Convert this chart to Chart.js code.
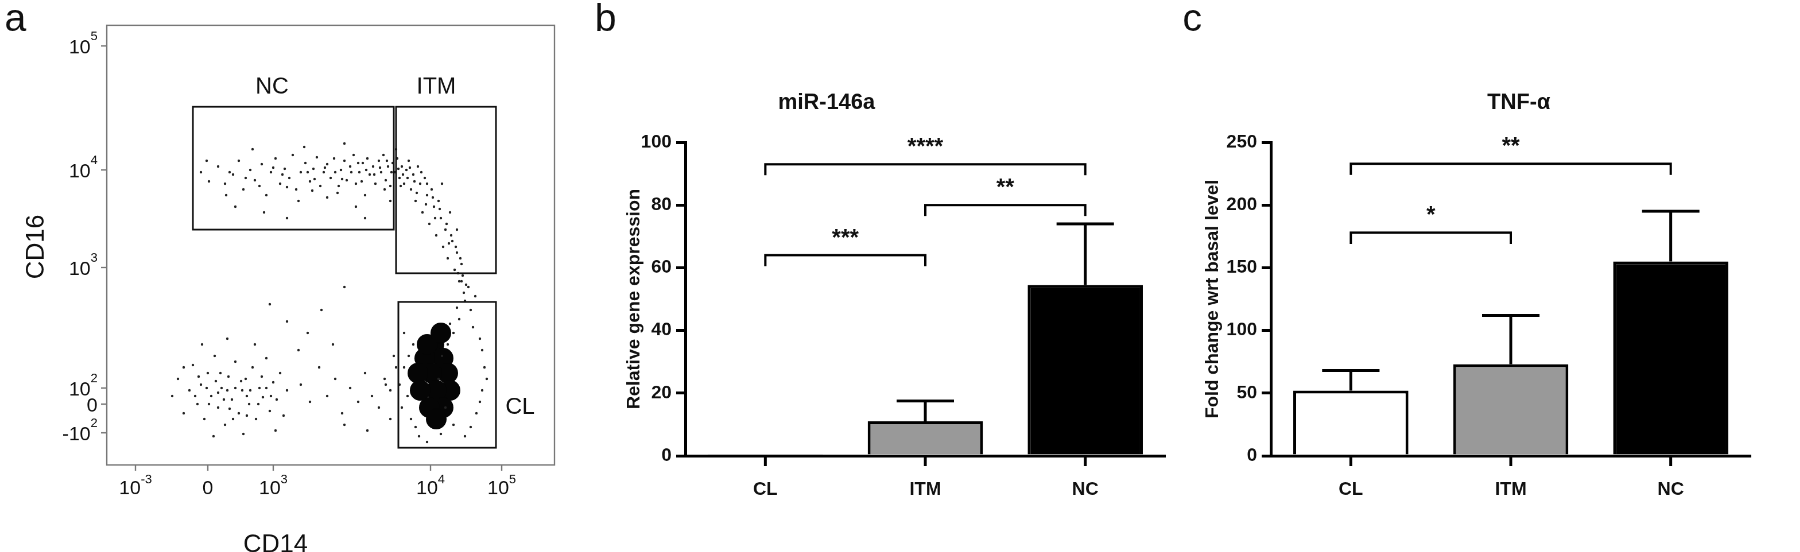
<!DOCTYPE html>
<html><head><meta charset="utf-8">
<script src="https://cdn.jsdelivr.net/npm/chart.js@4/dist/chart.umd.min.js"></script>
<style>
body{margin:0;background:#fff;width:1800px;height:552px;overflow:hidden;font-family:Arial,"Liberation Sans",sans-serif}
#root{position:absolute;left:0;top:0;width:1568px;height:481px;transform:scale(1.148);transform-origin:0 0}
.p{position:absolute;top:0;height:481px}
.lt{position:absolute;font-size:34px;top:-4px;color:#111}
</style></head><body><div id="root">
<div class="lt" style="left:4px">a</div>
<div class="lt" style="left:518px">b</div>
<div class="lt" style="left:1030px">c</div>
<div class="p" style="left:0;width:500px"><canvas id="ca"></canvas></div>
<div class="p" style="left:500px;width:530px"><canvas id="cb"></canvas></div>
<div class="p" style="left:1010px;width:530px"><canvas id="cc"></canvas></div>
</div>
<script>
// ---- Panel a: flow cytometry (display units) ----
const xTickPos=[118,181,238,375,437];
const xTickBase=['10','0','10','10','10'];
const xTickExp=['-3','','3','4','5'];
const yTickPos=[40,148,233,338,352,377];
const yTickBase=['10','10','10','10','0','-10'];
const yTickExp=['5','4','3','2','','2'];
const gates=[{l:'NC',x0:168,x1:343,y0:93,y1:200,lx:237,ly:76},{l:'ITM',x0:345,x1:432,y0:93,y1:238,lx:380,ly:76},{l:'CL',x0:347,x1:432,y0:263,y1:390,lx:453,ly:355}];
const bandPts=[[175,150],[182,158],[190,145],[196,160],[203,152],[208,140],[212,165],[218,148],[222,157],[228,143],[232,170],[236,150],[240,138],[244,160],[248,147],[252,155],[255,135],[258,165],[262,150],[266,142],[270,158],[273,147],[276,137],[279,162],[282,150],[285,143],[288,155],[291,138],[294,168],[297,148],[300,140],[302,157],[305,145],[308,135],[310,160],[313,150],[316,142],[318,170],[320,138],[322,152],[325,145],[327,160],[330,140],[332,150],[334,135],[336,157],[338,145],[340,162],[342,142],[344,150],[346,138],[348,155],[350,145],[352,160],[354,148],[356,140],[358,165],[360,152],[362,175],[364,145],[366,160],[368,185],[370,155],[372,170],[374,195],[376,165],[378,180],[380,205],[382,175],[384,190],[386,215],[388,200],[390,225],[392,185],[394,210],[396,235],[398,220],[400,245],[402,230],[404,255],[403,240],[398,200],[385,160],[260,175],[230,185],[205,180],[285,172],[310,180],[340,175],[220,130],[265,128],[300,125],[345,130],[197,170],[250,190],[318,190],[180,140],[238,146],[246,152],[268,150],[274,156],[283,146],[292,150],[298,156],[306,150],[312,142],[319,148],[326,152],[331,146],[337,140],[341,150],[347,147],[351,152],[357,146],[361,158],[367,150],[372,160],[377,172],[383,182],[389,195],[393,205],[397,215],[401,225],[406,248],[399,238],[391,212],[379,190],[371,178],[363,168],[355,155],[349,162],[335,165],[315,158],[295,162],[272,166],[250,163],[226,162],[214,155],[200,150]];
const leftPts=[[150,345],[155,330],[160,360],[165,340],[168,318],[172,352],[175,335],[178,365],[181,325],[184,345],[187,310],[190,355],[193,338],[196,370],[199,328],[202,348],[205,315],[208,360],[211,340],[214,330],[217,352],[220,320],[223,365],[226,338],[229,346],[232,312],[235,358],[238,333],[241,348],[244,325],[247,362],[250,340],[176,300],[198,295],[222,300],[186,380],[212,378],[240,375],[160,320],[205,338],[190,342],[215,345],[228,328],[170,345],[180,338],[188,332],[195,348],[200,356],[210,332],[218,340],[225,352],[232,338],[182,352],[192,325],[203,365],[215,362],[173,328],[236,345],[198,340]];
const midPts=[[262,335],[270,350],[278,320],[285,345],[292,330],[298,360],[305,338],[312,350],[318,325],[324,345],[330,355],[336,335],[340,365],[268,290],[290,300],[300,370],[320,375],[250,280],[280,270],[235,265],[300,250],[260,305]];
const clPts=[[405,262],[410,270],[400,278],[412,285],[395,290],[418,295],[390,300],[420,305],[385,310],[422,320],[382,330],[420,340],[388,355],[415,360],[395,370],[405,380],[360,300],[352,320],[355,345],[358,365],[365,380],[348,335],[408,250],[414,258],[402,245],[398,268],[392,282],[352,290],[356,310],[350,355],[362,372],[372,385],[384,378],[410,372],[418,350],[424,330],[345,320],[340,340],[335,330],[343,310]];
const clBlob=[[378,300],[386,312],[370,312],[390,325],[376,325],[364,325],[392,340],[380,340],[366,340],[386,355],[374,355],[380,365],[372,300],[384,290]];

const frame={id:'frame',afterDraw(c){
  const g=c.ctx,xs=c.scales.x,ys=c.scales.y,a=c.chartArea;
  g.save();g.strokeStyle='#777';g.lineWidth=1.2;g.strokeRect(a.left,a.top,a.right-a.left,a.bottom-a.top);
  g.fillStyle='#111';
  xTickPos.forEach((p,i)=>{const X=xs.getPixelForValue(p);g.beginPath();g.moveTo(X,a.bottom);g.lineTo(X,a.bottom+5);g.stroke();
    g.font='17px Arial';const w=g.measureText(xTickBase[i]).width;g.font='11px Arial';const w2=g.measureText(xTickExp[i]).width;
    const x0=X-(w+w2)/2;g.font='17px Arial';g.textBaseline='middle';g.textAlign='left';g.fillText(xTickBase[i],x0,a.bottom+21);
    g.font='11px Arial';g.fillText(xTickExp[i],x0+w,a.bottom+13);});
  yTickPos.forEach((p,i)=>{const Y=ys.getPixelForValue(p);g.beginPath();g.moveTo(a.left,Y);g.lineTo(a.left-5,Y);g.stroke();
    g.font='11px Arial';const w2=g.measureText(yTickExp[i]).width;g.textAlign='right';g.textBaseline='middle';
    g.fillText(yTickExp[i],a.left-8,Y-8);g.font='17px Arial';g.fillText(yTickBase[i],a.left-8-w2,Y+2);});
  g.strokeStyle='#111';g.lineWidth=1.5;g.font='20px Arial';g.textAlign='center';
  gates.forEach(q=>{const x0=xs.getPixelForValue(q.x0),x1=xs.getPixelForValue(q.x1),y0=ys.getPixelForValue(q.y0),y1=ys.getPixelForValue(q.y1);
    g.strokeRect(x0,y0,x1-x0,y1-y0);g.fillText(q.l,xs.getPixelForValue(q.lx),ys.getPixelForValue(q.ly));});
  g.font='22px Arial';g.fillText('CD14',240,475);
  g.translate(32,215);g.rotate(-Math.PI/2);g.fillText('CD16',0,0);g.restore();}};
const pt=a=>a.map(p=>({x:p[0],y:p[1]}));
new Chart(document.getElementById('ca'),{type:'scatter',
 data:{datasets:[
  {data:pt(bandPts),pointRadius:1.1,backgroundColor:'#222',borderWidth:0},
  {data:pt(leftPts),pointRadius:1.1,backgroundColor:'#222',borderWidth:0},
  {data:pt(midPts),pointRadius:1.1,backgroundColor:'#222',borderWidth:0},
  {data:pt(clPts),pointRadius:1.1,backgroundColor:'#222',borderWidth:0},
  {data:pt(clBlob),pointRadius:9,backgroundColor:'#050505',borderWidth:0}]},
 options:{responsive:true,maintainAspectRatio:false,animation:false,events:[],devicePixelRatio:2,
  layout:{padding:{left:93,top:22,right:17,bottom:76}},
  plugins:{legend:{display:false},tooltip:{enabled:false}},
  scales:{x:{type:'linear',min:93,max:483,display:false},y:{type:'linear',min:22,max:405,reverse:true,display:false}}},
 plugins:[frame]});

// ---- Panels b & c ----
const categories=['CL','ITM','NC'];
const mirMean=[0.5,11,54.5];
const mirErr=[0.5,17.5,74];
const tnfMean=[52,73,155];
const tnfErr=[68,112,195];
const barColors=['#ffffff','#999999','#000000'];
const mirSig=[{a:0,b:2,y:93,t:'****'},{a:1,b:2,y:80,t:'**'},{a:0,b:1,y:64,t:'***'}];
const tnfSig=[{a:0,b:2,y:233,t:'**'},{a:0,b:1,y:178,t:'*'}];

function deco(title,tx,ylab,lx,err,sig,drop){return {id:'deco',afterDatasetsDraw(c){
  const g=c.ctx,xs=c.scales.x,ys=c.scales.y,a=c.chartArea;g.save();g.strokeStyle='#000';g.lineWidth=2.5;
  err.forEach((e,i)=>{const X=xs.getPixelForValue(i),Y0=ys.getPixelForValue(c.data.datasets[0].data[i]),Y1=ys.getPixelForValue(e);
    if(e-c.data.datasets[0].data[i]<0.6)return;
    g.beginPath();g.moveTo(X,Y0);g.lineTo(X,Y1);g.moveTo(X-25,Y1);g.lineTo(X+25,Y1);g.stroke();});
  g.lineWidth=2;g.fillStyle='#111';g.font='bold 20px Arial';g.textAlign='center';g.textBaseline='alphabetic';
  sig.forEach(s=>{const xa=xs.getPixelForValue(s.a),xb=xs.getPixelForValue(s.b),Y=ys.getPixelForValue(s.y),Yd=ys.getPixelForValue(s.y-drop);
    g.beginPath();g.moveTo(xa,Yd);g.lineTo(xa,Y);g.lineTo(xb,Y);g.lineTo(xb,Yd);g.stroke();g.fillText(s.t,(xa+xb)/2,Y-9);});
  g.font='bold 19px Arial';g.fillText(title,tx,95);
  g.font='bold 16px Arial';g.translate(a.left-lx,(a.top+a.bottom)/2);g.rotate(-Math.PI/2);g.fillText(ylab,0,0);g.restore();}};}

function bar(id,mean,err,max,step,title,tx,ylab,lx,sig,drop){
 new Chart(document.getElementById(id),{type:'bar',
  data:{labels:categories,datasets:[{data:mean,backgroundColor:barColors,borderColor:'#000',borderWidth:2.5,borderSkipped:'bottom',barPercentage:0.72,categoryPercentage:1}]},
  options:{responsive:true,maintainAspectRatio:false,animation:false,events:[],devicePixelRatio:2,
   layout:{padding:{left:0,top:124,right:15,bottom:0}},
   plugins:{legend:{display:false},tooltip:{enabled:false}},
   scales:{
    x:{afterFit:s=>{s.height=84},grid:{display:false},border:{color:'#000',width:2.5},
       ticks:{color:'#111',font:{size:16,weight:'bold',family:'Arial'},padding:12}},
    y:{min:0,max:max,afterFit:s=>{s.width=97},ticks:{stepSize:step,color:'#111',font:{size:16,weight:'bold',family:'Arial'},padding:4},
       grid:{display:true,drawOnChartArea:false,tickLength:8,color:'#000',lineWidth:2.5},border:{color:'#000',width:2.5}}}},
  plugins:[deco(title,tx,ylab,lx,err,sig,drop),{id:'xt',afterDraw(c){const g=c.ctx,xs=c.scales.x,a=c.chartArea;g.save();g.strokeStyle='#000';g.lineWidth=2.5;
    categories.forEach((_,i)=>{const X=xs.getPixelForValue(i);g.beginPath();g.moveTo(X,a.bottom);g.lineTo(X,a.bottom+9);g.stroke();});g.restore();}}]});}
bar('cb',mirMean,mirErr,100,20,'miR-146a',220,'Relative gene expression',40,mirSig,3.5);
bar('cc',tnfMean,tnfErr,250,50,'TNF-α',313,'Fold change wrt basal level',46,tnfSig,9);
</script></body></html>
